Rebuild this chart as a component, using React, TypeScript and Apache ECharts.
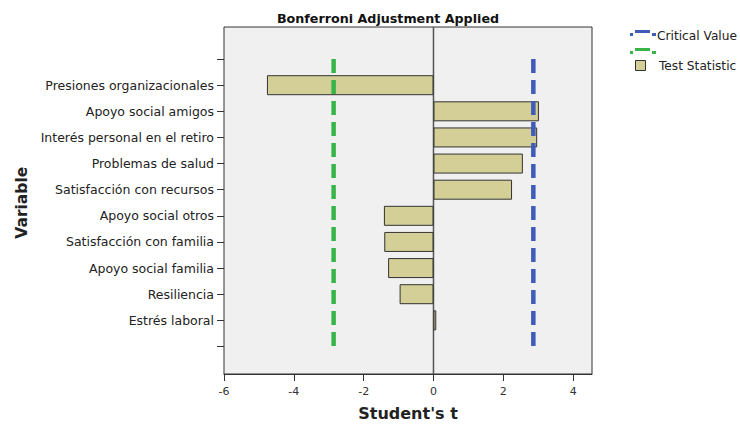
import React, { useEffect, useRef } from "react";
import * as echarts from "echarts";

// Variables, top to bottom; the blank entries pad the axis at both ends.
const categories = [
  " ",
  "Presiones organizacionales",
  "Apoyo social amigos",
  "Interés personal en el retiro",
  "Problemas de salud",
  "Satisfacción con recursos",
  "Apoyo social otros",
  "Satisfacción con familia",
  "Apoyo social familia",
  "Resiliencia",
  "Estrés laboral",
  "  ",
];
const testStatistic: (number | string)[] = [
  "-", -4.77, 3.02, 2.97, 2.56, 2.25, -1.42, -1.41, -1.3, -0.97, 0.08, "-",
];
const criticalValue = 2.86;
const xTicks = [-6, -4, -2, 0, 2, 4];
const xMin = -6;
const xMax = 4.54;

const FONT = "'DejaVu Sans', Verdana, sans-serif";
const BAR_FILL = "#d3cf96";
const BLUE = "#3f5cb8";
const GREEN = "#38b548";

export default function App() {
  const ref = useRef<HTMLDivElement>(null);

  useEffect(() => {
    document.body.style.margin = "0";
    if (!ref.current) return;
    const chart = echarts.init(ref.current, undefined, { renderer: "svg" });
    const first = 1;
    const last = categories.length - 2;
    const option: echarts.EChartsCoreOption = {
      animation: false,
      backgroundColor: "#ffffff",
      textStyle: { fontFamily: FONT },
      grid: [
        {
          left: 224, right: 148, top: 27, bottom: 51,
          show: true, backgroundColor: "#f0f0f0", borderColor: "#333", borderWidth: 1,
        },
        { left: 224, right: 148, top: 46, height: 313.5 },
      ],
      xAxis: [
        {
          gridIndex: 0, type: "value", min: xMin, max: xMax, interval: 2,
          splitLine: { show: false },
          axisLine: { show: true, onZero: false, lineStyle: { color: "#333", width: 1 } },
          axisTick: { show: true, length: 7, customValues: xTicks, lineStyle: { color: "#333" } },
          axisLabel: { customValues: xTicks, color: "#333", fontSize: 11, margin: 12, fontFamily: FONT },
          name: "Student's t", nameLocation: "middle", nameGap: 31,
          nameTextStyle: { fontSize: 16, fontWeight: "bold", color: "#222", fontFamily: FONT },
        },
        {
          gridIndex: 1, type: "value", min: xMin, max: xMax, show: false,
        },
      ],
      yAxis: [
        { gridIndex: 0, type: "value", min: 0, max: 1, show: false },
        {
          gridIndex: 1, type: "category", inverse: true, data: categories,
          axisLine: { show: false, onZero: false },
          axisTick: { show: true, alignWithLabel: true, length: 7, lineStyle: { color: "#333" } },
          axisLabel: { color: "#222", fontSize: 12.5, margin: 10, fontFamily: FONT },
          name: "Variable", nameLocation: "middle", nameGap: 194, nameRotate: 90,
          nameTextStyle: { fontSize: 15.5, fontWeight: "bold", color: "#222", fontFamily: FONT },
        },
      ],
      series: [
        {
          // zero reference line spanning the full plot frame
          type: "line", xAxisIndex: 0, yAxisIndex: 0, symbol: "none", silent: true,
          data: [[0, 0], [0, 1]],
          lineStyle: { color: "#555", width: 1.5 }, z: 1,
        },
        {
          type: "bar", xAxisIndex: 1, yAxisIndex: 1, data: testStatistic, barWidth: 20,
          itemStyle: { color: BAR_FILL, borderColor: "#333", borderWidth: 1 }, z: 2,
        },
        {
          type: "line", xAxisIndex: 1, yAxisIndex: 1, symbol: "none", silent: true,
          data: [[-criticalValue, first - 1], [-criticalValue, last + 1]],
          lineStyle: { color: GREEN, width: 4.5, type: [14, 7] }, z: 3,
        },
        {
          type: "line", xAxisIndex: 1, yAxisIndex: 1, symbol: "none", silent: true,
          data: [[criticalValue, first - 1], [criticalValue, last + 1]],
          lineStyle: { color: BLUE, width: 4.5, type: [14, 7] }, z: 3,
        },
      ],
      graphic: [
        {
          type: "text", x: 388, y: 18,
          style: {
            text: "Bonferroni Adjustment Applied",
            fontSize: 12.7, fontWeight: "bold", fill: "#111", fontFamily: FONT,
            align: "center", verticalAlign: "middle",
          },
        },
        // legend: critical value (two dashed swatches) and test statistic
        { type: "rect", shape: { x: 630, y: 33, width: 3, height: 3 }, style: { fill: BLUE } },
        { type: "rect", shape: { x: 635, y: 30, width: 15, height: 3 }, style: { fill: BLUE } },
        { type: "rect", shape: { x: 652, y: 33, width: 4, height: 3 }, style: { fill: BLUE } },
        { type: "rect", shape: { x: 630, y: 51, width: 3, height: 3 }, style: { fill: GREEN } },
        { type: "rect", shape: { x: 635, y: 48, width: 15, height: 3 }, style: { fill: GREEN } },
        { type: "rect", shape: { x: 652, y: 51, width: 4, height: 3 }, style: { fill: GREEN } },
        {
          type: "text", x: 657, y: 36,
          style: { text: "Critical Value", fontSize: 12.2, fill: "#222", fontFamily: FONT, verticalAlign: "middle" },
        },
        {
          type: "rect", shape: { x: 635.5, y: 60.5, width: 10, height: 10 },
          style: { fill: BAR_FILL, stroke: "#333", lineWidth: 1 },
        },
        {
          type: "text", x: 659, y: 66,
          style: { text: "Test Statistic", fontSize: 12.2, fill: "#222", fontFamily: FONT, verticalAlign: "middle" },
        },
      ],
    };
    chart.setOption(option);
    return () => chart.dispose();
  }, []);

  return <div ref={ref} style={{ width: 740, height: 426 }} />;
}
